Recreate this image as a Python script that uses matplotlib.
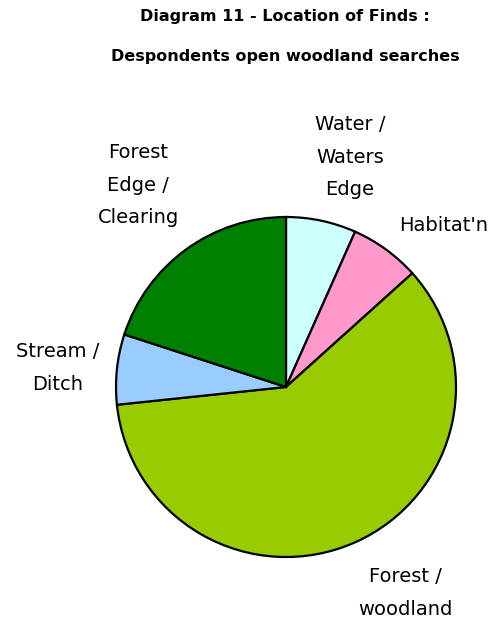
import matplotlib
matplotlib.use("Agg")
import matplotlib.pyplot as plt
import numpy as np

categories = ["Water /\nWaters\nEdge", "Habitat'n", "Forest /\nwoodland", "Stream /\nDitch", "Forest\nEdge /\nClearing"]
values = [1, 1, 9, 1, 3]
colors = ["#CCFFFF", "#FF99CC", "#99CC00", "#99CCFF", "#008000"]

fig = plt.figure(figsize=(5, 6.24), dpi=100)
cx, cy, r = 286, 387, 170
ax = fig.add_axes([(cx - r) / 500, (624 - cy - r) / 624, 2 * r / 500, 2 * r / 624])
wedges, _ = ax.pie(values, colors=colors, startangle=90, counterclock=False,
                   wedgeprops=dict(edgecolor="black", linewidth=1.6))
ax.set_xlim(-1, 1)
ax.set_ylim(-1, 1)
ax.axis("off")

# label placement (pixel offsets from pie centre)
offsets = [(64, -230), (158, -162), (119, 206), (-228, -19), (-148, -202)]
for lab, (dx, dy) in zip(categories, offsets):
    ax.text(dx / r, -dy / r, lab, ha="center", va="center", fontsize=14,
            linespacing=1.9, family="DejaVu Sans")

fig.text(0.57, 1 - 17 / 624, "Diagram 11 - Location of Finds :", ha="center", va="center",
         fontsize=11.5, fontweight="bold")
fig.text(0.57, 1 - 57 / 624, "Despondents open woodland searches", ha="center", va="center",
         fontsize=11.5, fontweight="bold")

fig.savefig("out.png", dpi=100, facecolor="white")
